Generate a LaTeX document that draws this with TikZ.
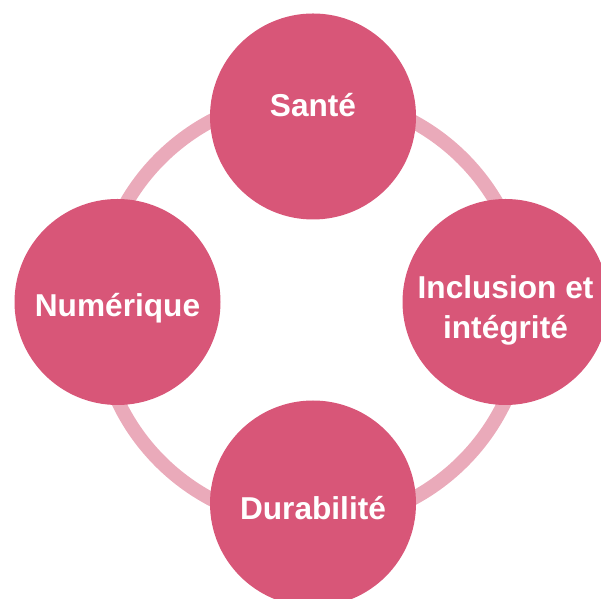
\documentclass[tikz,border=0pt]{standalone}
\usepackage{fontspec}
\setmainfont{Liberation Sans}
\usepackage{tikz}
\usetikzlibrary{calc}

\definecolor{themepink}{RGB}{216,86,120}
\definecolor{ringpink}{RGB}{234,170,186}

\tikzset{
  topic/.style={circle, fill=themepink, draw=none, minimum size=2.06cm, inner sep=0pt},
  topictext/.style={text=white, align=center, font=\bfseries\fontsize{9}{11.4}\selectfont},
  ring/.style={draw=ringpink, line width=0.14cm}
}

\begin{document}
\begin{tikzpicture}
            \useasboundingbox (0,0) rectangle (6.01,5.98);

            % the ring behind the four themes
            \coordinate (mid) at (3.115,2.88);
            \draw[ring] (mid) circle (2.14);

            \node[topic] (sante) at (3.13,4.815) {};
            \node[topic] (inclusion) at (5.055,2.96) {};
            \node[topic] (numerique) at (1.175,2.96) {};
            \node[topic] (durabilite) at (3.13,0.945) {};

            \node[topictext] at ([yshift=1.1mm]sante.center) {Santé};
            \node[topictext] at ([yshift=-0.8mm]inclusion.center) {Inclusion et\\intégrité};
            \node[topictext] at ([yshift=-0.6mm]numerique.center) {Numérique};
            \node[topictext] at ([yshift=-0.5mm]durabilite.center) {Durabilité};
        \end{tikzpicture}
\end{document}
